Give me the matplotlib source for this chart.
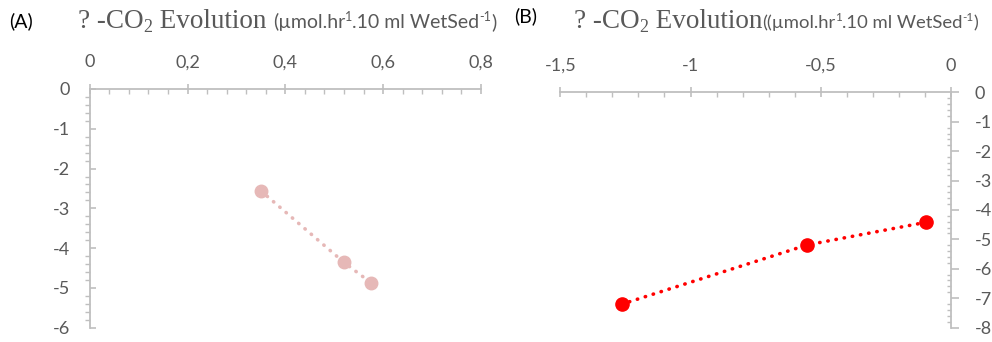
import matplotlib
matplotlib.use('Agg')
import matplotlib.pyplot as plt
from matplotlib.ticker import MultipleLocator, FuncFormatter

# panel (A)
a_x = [0.350, 0.520, 0.575]
a_y = [-2.56, -4.36, -4.87]
# panel (B)
b_x = [-1.265, -0.552, -0.096]
b_y = [-7.21, -5.19, -4.42]

a_xticks = [0, 0.2, 0.4, 0.6, 0.8]
a_yticks = [0, -1, -2, -3, -4, -5, -6]
b_xticks = [-1.5, -1, -0.5, 0]
b_yticks = [0, -1, -2, -3, -4, -5, -6, -7, -8]

GREY = '#595959'
AXC = '#bfbfbf'
SANS = ['Lato', 'DejaVu Sans']
SERIF = ['Liberation Serif', 'DejaVu Serif']

W, H = 992, 342
fig = plt.figure(figsize=(W / 100, H / 100), dpi=100)


def comma(v, _pos):
    if abs(v) < 1e-9:
        return '0'
    return ('%g' % v).replace('.', ',')


def style_axis(ax, yside):
    for s in ax.spines.values():
        s.set_visible(False)
    ax.spines['top'].set_visible(True)
    ax.spines[yside].set_visible(True)
    ax.spines['top'].set_color(AXC)
    ax.spines[yside].set_color(AXC)
    ax.spines['top'].set_linewidth(1.3)
    ax.spines[yside].set_linewidth(1.3)
    ax.xaxis.tick_top()
    if yside == 'left':
        ax.yaxis.tick_left()
    else:
        ax.yaxis.tick_right()
    ax.xaxis.set_major_formatter(FuncFormatter(comma))
    ax.yaxis.set_major_formatter(FuncFormatter(comma))
    ax.tick_params(axis='x', which='major', direction='inout', length=7,
                   width=1.2, color=AXC, labelcolor=GREY, labelsize=13, pad=10)
    ax.tick_params(axis='x', which='minor', direction='in', length=3.5,
                   width=1.0, color=AXC)
    if yside == 'left':
        ax.tick_params(axis='y', which='major', direction='in', length=4.5,
                       width=1.2, color=AXC, labelcolor=GREY, labelsize=13,
                       pad=14)
        ax.tick_params(axis='y', which='minor', direction='out', length=3.8,
                       width=1.0, color=AXC)
    else:
        ax.tick_params(axis='y', which='major', direction='out', length=6,
                       width=1.2, color=AXC, labelcolor=GREY, labelsize=13,
                       pad=11)
        ax.tick_params(axis='y', which='minor', direction='in', length=3,
                       width=1.0, color=AXC)
    for lab in ax.get_xticklabels() + ax.get_yticklabels():
        lab.set_family(SANS)
    ax.patch.set_alpha(0)


# (A) axes
axA = fig.add_axes([89.7 / W, 1 - 327.7 / H, (481 - 89.7) / W, (327.7 - 89) / H])
axA.set_xlim(0, 0.8)
axA.set_ylim(-6, 0)
axA.set_xticks(a_xticks)
axA.set_yticks(a_yticks)
axA.xaxis.set_minor_locator(MultipleLocator(0.04))
axA.yaxis.set_minor_locator(MultipleLocator(0.2))
style_axis(axA, 'left')
axA.plot(a_x, a_y, color='#e6b8b7', lw=2.6, linestyle=(0, (0.1, 2.2)),
         dash_capstyle='round', marker='o', markersize=9, clip_on=False)

# (B) axes
axB = fig.add_axes([560.3 / W, 1 - 327.5 / H, (951 - 560.3) / W, (327.5 - 92.4) / H])
axB.set_xlim(-1.5, 0)
axB.set_ylim(-8, 0)
axB.set_xticks(b_xticks)
axB.set_yticks(b_yticks)
axB.xaxis.set_minor_locator(MultipleLocator(0.1))
axB.yaxis.set_minor_locator(MultipleLocator(0.2))
style_axis(axB, 'right')
axB.plot(b_x, b_y, color='#ff0000', lw=2.6, linestyle=(0, (0.1, 2.2)),
         dash_capstyle='round', marker='o', markersize=9.5, clip_on=False)


def write_row(x_px, y_px, parts):
    r = fig.canvas.get_renderer()
    x = x_px
    for s, size, fam, dy in parts:
        t = fig.text(x / W, 1 - (y_px - dy) / H, s, va='baseline', ha='left',
                     color=GREY, fontsize=size, family=fam)
        bb = t.get_window_extent(r)
        x = bb.x1


fig.text(9 / W, 1 - 27 / H, '(A)', fontsize=14, family=SANS, color='black',
         va='baseline')
fig.text(514 / W, 1 - 22 / H, '(B)', fontsize=14, family=SANS, color='black',
         va='baseline')

unit_a = [('(µmol.hr', 14, SANS, 0), ('1', 9, SANS, 7),
          ('.10 ml WetSed', 14, SANS, 0), ('-1', 9, SANS, 7), (')', 14, SANS, 0)]
write_row(78, 28, [('? -CO', 19.5, SERIF, 0), ('2', 13, SERIF, -4),
                   (' Evolution ', 19.5, SERIF, 0)] + unit_a)
unit_b = [('((µmol.hr', 13.3, SANS, 0), ('1', 8.5, SANS, 7),
          ('.10 ml WetSed', 13.3, SANS, 0), ('-1', 8.5, SANS, 7), (')', 13.3, SANS, 0)]
write_row(574, 28, [('? -CO', 19.5, SERIF, 0), ('2', 13, SERIF, -4),
                    (' Evolution', 19.5, SERIF, 0)] + unit_b)

fig.savefig('out.png', dpi=100)
